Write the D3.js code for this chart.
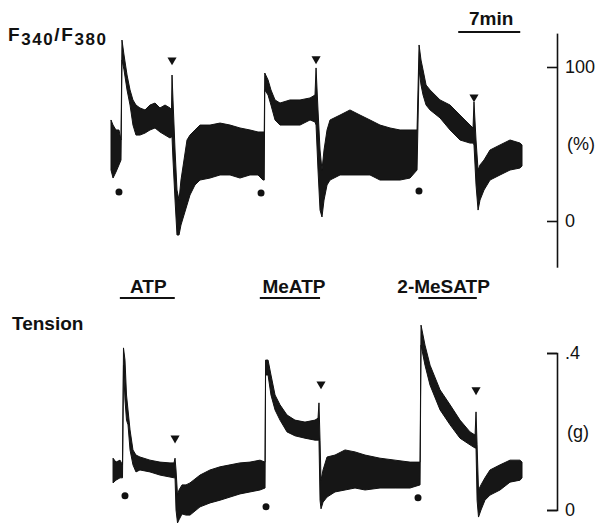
<!DOCTYPE html>
<html>
<head>
<meta charset="utf-8">
<script src="https://cdn.jsdelivr.net/npm/d3@7"></script>
<style>
  body { margin: 0; background: #fff; }
  text { font-family: "Liberation Sans", Arial, sans-serif; fill: #111; }
</style>
</head>
<body>
<svg width="602" height="525"></svg>
<script>
// ---- data (time in min, ratio in %, tension in g) ----
// the traces are very noisy, so each one is kept as an upper / lower envelope
var ratioTime = [0.00, 0.23, 0.56, 0.90, 1.13, 1.24, 1.47, 1.81, 2.15, 2.48, 2.82, 3.27, 3.84, 4.40, 4.97, 5.53, 6.10, 6.66, 6.83, 6.89,
  7.00, 7.23, 7.45, 7.68, 7.90, 8.24, 8.58, 8.92, 9.48, 10.05, 11.18, 12.31, 13.44, 14.56, 15.69, 16.60, 17.16, 17.30, 17.36, 17.73,
  18.06, 18.52, 19.08, 20.21, 21.34, 22.47, 23.03, 23.15, 23.37, 23.60, 23.82, 24.05, 24.39, 24.73, 25.86, 26.98, 28.11, 29.24, 30.37, 31.50,
  32.63, 33.76, 34.55, 34.78, 35.00, 35.23, 35.57, 36.02, 37.15, 38.28, 39.40, 40.53, 40.87, 40.98, 41.21, 41.44, 41.66, 42.11, 42.79, 43.92,
  45.05, 46.18, 46.40];
var ratioHigh = [65.6, 62.3, 59.1, 59.1, 52.6, 117.5, 107.8, 94.8, 85.1, 78.6, 75.3, 73.4, 72.1, 75.3, 76.6, 73.4, 75.3, 73.4, 72.1, 94.8,
  78.6, 46.1, 20.1, 13.6, 26.6, 39.6, 52.6, 55.8, 59.1, 62.3, 62.3, 63.6, 62.3, 60.4, 59.1, 57.8, 57.8, 57.8, 96.1, 91.6,
  85.1, 78.6, 76.6, 78.6, 78.6, 79.9, 81.8, 99.4, 72.1, 46.1, 33.1, 46.1, 59.1, 65.6, 68.8, 72.1, 68.8, 65.6, 62.3, 60.4,
  59.1, 59.1, 59.1, 114.3, 104.5, 98.1, 88.3, 85.1, 78.6, 75.3, 68.8, 62.3, 60.4, 77.3, 52.6, 33.1, 36.4, 39.6, 46.1, 49.4,
  52.6, 50.6, 49.4];
var ratioLow = [33.1, 27.9, 31.8, 36.4, 39.6, 104.5, 98.1, 85.1, 75.3, 62.3, 55.8, 55.8, 57.1, 59.1, 60.4, 57.8, 55.8, 53.9, 54.5, 54.5,
  39.6, 13.6, -9.1, -9.1, -2.6, 3.9, 10.4, 16.9, 23.4, 26.6, 27.9, 29.9, 29.9, 27.9, 29.9, 29.9, 26.6, 26.6, 85.1, 81.8,
  75.3, 65.6, 62.3, 62.3, 62.3, 65.6, 64.3, 62.3, 33.1, 7.1, 2.6, 13.6, 23.4, 26.6, 29.9, 29.9, 29.9, 29.9, 26.6, 26.6,
  26.6, 27.9, 33.1, 98.1, 88.3, 81.8, 75.3, 72.1, 66.9, 59.1, 52.6, 50.6, 50.6, 49.4, 23.4, 7.1, 13.6, 20.1, 26.6, 29.9,
  33.1, 34.4, 35.7];

var tensionTime = [0.23, 0.56, 1.02, 1.30, 1.41, 1.58, 1.75, 1.92, 2.15, 2.48, 2.82, 3.27, 4.40, 5.53, 6.66, 7.11, 7.23, 7.34, 7.51, 7.68,
  8.02, 8.47, 8.92, 10.05, 11.18, 12.31, 13.44, 14.56, 15.69, 16.82, 17.39, 17.45, 17.73, 18.06, 18.52, 19.08, 19.87, 20.77, 21.90, 23.03,
  23.37, 23.48, 23.60, 23.71, 23.94, 24.39, 25.29, 26.42, 27.55, 28.68, 30.37, 32.07, 33.76, 34.89, 35.00, 35.45, 36.02, 37.15, 38.28, 39.40,
  40.53, 41.10, 41.21, 41.33, 41.49, 41.77, 42.22, 42.79, 43.92, 45.05, 46.18, 46.40];
var tensionHigh = [0.132, 0.122, 0.127, 0.115, 0.413, 0.382, 0.293, 0.255, 0.204, 0.153, 0.140, 0.135, 0.127, 0.122, 0.120, 0.120, 0.132, 0.102, 0.038, 0.051,
  0.064, 0.064, 0.069, 0.089, 0.102, 0.110, 0.115, 0.120, 0.122, 0.127, 0.122, 0.382, 0.382, 0.344, 0.293, 0.268, 0.242, 0.229, 0.224, 0.229,
  0.234, 0.273, 0.178, 0.076, 0.102, 0.135, 0.140, 0.153, 0.148, 0.140, 0.132, 0.127, 0.122, 0.122, 0.471, 0.420, 0.369, 0.306, 0.268, 0.229,
  0.199, 0.191, 0.250, 0.166, 0.051, 0.064, 0.082, 0.102, 0.115, 0.127, 0.127, 0.122];
var tensionLow = [0.069, 0.076, 0.082, 0.082, 0.369, 0.280, 0.229, 0.217, 0.153, 0.115, 0.097, 0.102, 0.097, 0.089, 0.084, 0.082, 0.082, 0.000, -0.033, -0.025,
  -0.010, -0.013, -0.013, 0.008, 0.018, 0.025, 0.033, 0.041, 0.046, 0.051, 0.056, 0.344, 0.344, 0.293, 0.255, 0.229, 0.199, 0.189, 0.183, 0.178,
  0.178, 0.178, 0.025, 0.003, 0.020, 0.033, 0.046, 0.051, 0.056, 0.051, 0.056, 0.056, 0.056, 0.064, 0.420, 0.369, 0.318, 0.255, 0.217, 0.183,
  0.166, 0.158, 0.158, 0.025, -0.018, 0.000, 0.025, 0.038, 0.051, 0.071, 0.076, 0.082];

// drug applications (bars under the names)
var drugNames = ["ATP", "MeATP", "2-MeSATP"];
var drugOn = [1.0, 16.8, 34.7];
var drugOff = [7.2, 23.6, 41.3];

// dots (drug in) and triangles (wash) on each trace
var ratioDotTime = [0.90, 16.94, 34.77];
var ratioDotValue = [18.8, 18.2, 19.5];
var ratioTriTime = [6.89, 23.15, 40.98];
var ratioTriValue = [104.5, 105.2, 80.5];
var tensionDotTime = [1.58, 17.50, 34.66];
var tensionDotValue = [0.036, 0.008, 0.031];
var tensionTriTime = [7.23, 23.71, 41.21];
var tensionTriValue = [0.183, 0.321, 0.306];

var ratioTicks = [0, 100];
var tensionTicks = [0, 0.4];
var scaleBarMin = 7;

// ---- layout ----
var svg = d3.select("svg");

var x = d3.scaleLinear().domain([0, 46.4]).range([111, 522]);
var yR = d3.scaleLinear().domain([0, 100]).range([221, 67]);
var yT = d3.scaleLinear().domain([0, 0.4]).range([510, 353]);

function zip(t, hi, lo) {
  return t.map(function(d, i) { return {t: d, hi: hi[i], lo: lo[i]}; });
}

function trace(data, y) {
  var area = d3.area()
      .x(function(d) { return x(d.t); })
      .y0(function(d) { return y(d.lo); })
      .y1(function(d) { return y(d.hi); });
  svg.append("path")
      .datum(data)
      .attr("fill", "#161616")
      .attr("stroke", "#111")
      .attr("stroke-width", 1)
      .attr("stroke-linejoin", "round")
      .attr("d", area);
}

trace(zip(ratioTime, ratioHigh, ratioLow), yR);
trace(zip(tensionTime, tensionHigh, tensionLow), yT);

// markers
function dots(t, v, y) {
  svg.append("g").selectAll("circle")
    .data(t)
    .join("circle")
      .attr("cx", function(d) { return x(d); })
      .attr("cy", function(d, i) { return y(v[i]); })
      .attr("r", 3.5)
      .attr("fill", "#111");
}
function triangles(t, v, y) {
  svg.append("g").selectAll("path")
    .data(t)
    .join("path")
      .attr("d", d3.symbol(d3.symbolTriangle, 36))
      .attr("transform", function(d, i) { return "translate(" + x(d) + "," + y(v[i]) + ") rotate(180)"; })
      .attr("fill", "#111");
}
dots(ratioDotTime, ratioDotValue, yR);
triangles(ratioTriTime, ratioTriValue, yR);
dots(tensionDotTime, tensionDotValue, yT);
triangles(tensionTriTime, tensionTriValue, yT);

// right-hand axes
var axisX = 557;
var yRfull = yR.copy().domain([-30, 122]).range([yR(-30), yR(122)]);
var gR = svg.append("g")
    .attr("transform", "translate(" + axisX + ",0)")
    .call(d3.axisRight(yRfull).tickValues(ratioTicks).tickSizeInner(-10).tickSizeOuter(0).tickPadding(8));
gR.append("text").attr("x", 10).attr("y", yR(50)).attr("dy", "0.35em").text("(%)");

var gT = svg.append("g")
    .attr("transform", "translate(" + axisX + ",0)")
    .call(d3.axisRight(yT).tickValues(tensionTicks).tickSizeInner(-10).tickSizeOuter(-10).tickPadding(8)
      .tickFormat(function(d) { return d ? String(d).replace(/^0/, "") : "0"; }));
gT.append("text").attr("x", 10).attr("y", yT(0.2)).attr("dy", "0.35em").text("(g)");

svg.selectAll(".domain, .tick line").attr("stroke", "#111").attr("stroke-width", 1.6);
svg.selectAll(".tick text, g text").attr("font-size", 18).attr("font-family", null).attr("fill", "#111");

// time scale bar
svg.append("line")
    .attr("x1", x(46.2 - scaleBarMin)).attr("x2", x(46.2))
    .attr("y1", 32).attr("y2", 32)
    .attr("stroke", "#111").attr("stroke-width", 2);
svg.append("text")
    .attr("x", (x(46.2 - scaleBarMin) + x(46.2)) / 2 + 2).attr("y", 25)
    .attr("text-anchor", "middle").attr("font-size", 19).attr("font-weight", "bold")
    .text(scaleBarMin + "min");

// drug bars and names
var labelShift = [1, 4, -4];
drugNames.forEach(function(name, i) {
  svg.append("line")
      .attr("x1", x(drugOn[i])).attr("x2", x(drugOff[i]))
      .attr("y1", 298).attr("y2", 298)
      .attr("stroke", "#111").attr("stroke-width", 2);
  svg.append("text")
      .attr("x", (x(drugOn[i]) + x(drugOff[i])) / 2 + labelShift[i]).attr("y", 293)
      .attr("text-anchor", "middle").attr("font-size", 19).attr("font-weight", "bold")
      .text(name);
});

// panel titles
var title = svg.append("text").attr("x", 8).attr("y", 41).attr("font-weight", "bold").attr("font-size", 19);
title.append("tspan").text("F");
title.append("tspan").attr("font-size", 17).attr("dy", 4).text("340");
title.append("tspan").attr("dy", -4).text("/F");
title.append("tspan").attr("font-size", 17).attr("dy", 4).text("380");
title.attr("textLength", 98).attr("lengthAdjust", "spacing");

svg.append("text").attr("x", 12).attr("y", 330)
    .attr("font-weight", "bold").attr("font-size", 19).text("Tension");
</script>
</body>
</html>
